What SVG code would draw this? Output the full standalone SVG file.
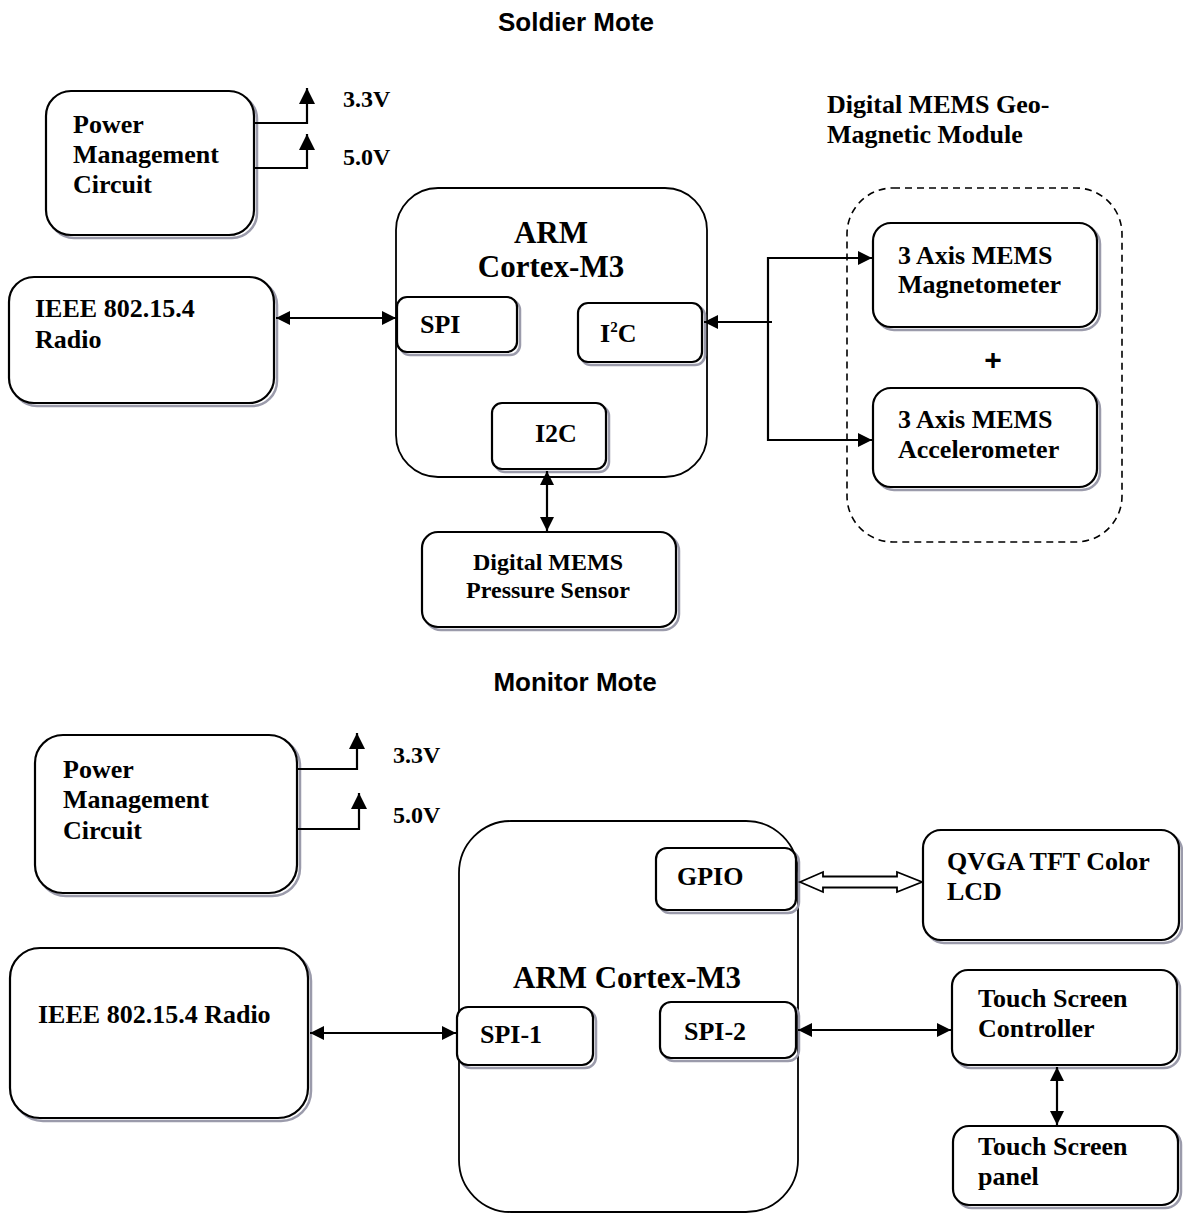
<svg xmlns="http://www.w3.org/2000/svg" width="1183" height="1213" viewBox="0 0 1183 1213">
<defs>
<style>
.box{fill:#fff;stroke:#000;stroke-width:2.2}
.sh{fill:none;stroke:#9b9bab;stroke-width:2.5}
.big{fill:#fff;stroke:#000;stroke-width:1.8}
.dash{fill:none;stroke:#000;stroke-width:1.6;stroke-dasharray:7 5}
.t{font-family:"Liberation Serif","Times New Roman",serif;font-weight:bold;font-size:26px;fill:#000}
.t24{font-family:"Liberation Serif","Times New Roman",serif;font-weight:bold;font-size:24px;fill:#000}
.arm{font-family:"Liberation Serif","Times New Roman",serif;font-weight:bold;font-size:31px;fill:#000}
.h{font-family:"Liberation Sans",Arial,sans-serif;font-weight:bold;font-size:26px;fill:#000}
.ln{fill:none;stroke:#000;stroke-width:2.2}
</style>
<marker id="ah" viewBox="0 0 10 10" refX="10" refY="5" markerWidth="16" markerHeight="14" markerUnits="userSpaceOnUse" orient="auto-start-reverse">
<path d="M0,0 L10,5 L0,10 z" fill="#000"/>
</marker>
<marker id="up" viewBox="0 0 10 10" refX="10" refY="5" markerWidth="18" markerHeight="16" markerUnits="userSpaceOnUse" orient="auto">
<path d="M0,0 L10,5 L0,10 z" fill="#000"/>
</marker>
</defs>
<rect width="1183" height="1213" fill="#fff"/>

<text class="h" x="576" y="31" text-anchor="middle">Soldier Mote</text>
<text class="h" x="575" y="691" text-anchor="middle">Monitor Mote</text>

<!-- Soldier mote -->
<g id="s-power">
<rect class="sh" x="49" y="94" width="208" height="144" rx="25"/>
<rect class="box" x="46" y="91" width="208" height="144" rx="25"/>
<text class="t" x="73" y="133">Power</text>
<text class="t" x="73" y="163">Management</text>
<text class="t" x="73" y="193">Circuit</text>
</g>
<g id="s-v33"><text class="t24" x="343" y="107">3.3V</text></g>
<g id="s-v50"><text class="t24" x="343" y="165">5.0V</text></g>

<g id="s-radio">
<rect class="sh" x="12" y="280" width="265" height="126" rx="25"/>
<rect class="box" x="9" y="277" width="265" height="126" rx="25"/>
<text class="t" x="35" y="317">IEEE 802.15.4</text>
<text class="t" x="35" y="348">Radio</text>
</g>

<g id="s-arm">
<rect class="big" x="396" y="188" width="311" height="289" rx="42"/>
<text class="arm" x="551" y="243" text-anchor="middle">ARM</text>
<text class="arm" x="551" y="277" text-anchor="middle">Cortex-M3</text>
</g>
<g id="s-spi">
<rect class="sh" x="400" y="300" width="120" height="55" rx="10"/>
<rect class="box" x="397" y="297" width="120" height="55" rx="10"/>
<text class="t" x="420" y="333">SPI</text>
</g>
<g id="s-i2c-a">
<rect class="sh" x="581" y="306" width="124" height="59" rx="10"/>
<rect class="box" x="578" y="303" width="124" height="59" rx="10"/>
<text class="t" x="600" y="342">I<tspan font-size="15" dy="-10">2</tspan><tspan dy="10">C</tspan></text>
</g>
<g id="s-i2c-b">
<rect class="sh" x="495" y="406" width="114" height="66" rx="10"/>
<rect class="box" x="492" y="403" width="114" height="66" rx="10"/>
<text class="t" x="535" y="442">I2C</text>
</g>

<g id="s-pressure">
<rect class="sh" x="425" y="535" width="254" height="95" rx="16"/>
<rect class="box" x="422" y="532" width="254" height="95" rx="16"/>
<text class="t24" x="548" y="570" text-anchor="middle">Digital MEMS</text>
<text class="t24" x="548" y="598" text-anchor="middle">Pressure Sensor</text>
</g>

<g id="s-geo">
<text class="t" x="827" y="113">Digital MEMS Geo-</text>
<text class="t" x="827" y="143">Magnetic Module</text>
<rect class="dash" x="847" y="188" width="275" height="354" rx="46"/>
<text x="993" y="370" text-anchor="middle" font-family="Liberation Sans, Arial, sans-serif" font-weight="bold" font-size="30">+</text>
</g>
<g id="s-mag">
<rect class="sh" x="876" y="226" width="224" height="104" rx="18"/>
<rect class="box" x="873" y="223" width="224" height="104" rx="18"/>
<text class="t" x="898" y="264">3 Axis MEMS</text>
<text class="t" x="898" y="293">Magnetometer</text>
</g>
<g id="s-acc">
<rect class="sh" x="876" y="391" width="224" height="99" rx="18"/>
<rect class="box" x="873" y="388" width="224" height="99" rx="18"/>
<text class="t" x="898" y="428">3 Axis MEMS</text>
<text class="t" x="898" y="458">Accelerometer</text>
</g>

<!-- Monitor mote -->
<g id="m-power">
<rect class="sh" x="38" y="738" width="262" height="158" rx="28"/>
<rect class="box" x="35" y="735" width="262" height="158" rx="28"/>
<text class="t" x="63" y="778">Power</text>
<text class="t" x="63" y="808">Management</text>
<text class="t" x="63" y="839">Circuit</text>
</g>
<g id="m-v33"><text class="t24" x="393" y="763">3.3V</text></g>
<g id="m-v50"><text class="t24" x="393" y="823">5.0V</text></g>

<g id="m-radio">
<rect class="sh" x="13" y="951" width="298" height="170" rx="30"/>
<rect class="box" x="10" y="948" width="298" height="170" rx="30"/>
<text class="t" x="38" y="1023">IEEE 802.15.4 Radio</text>
</g>

<g id="m-arm">
<rect class="big" x="459" y="821" width="339" height="391" rx="52"/>
<text class="arm" x="627" y="988" text-anchor="middle" font-size="32">ARM Cortex-M3</text>
</g>
<g id="m-gpio">
<rect class="sh" x="659" y="851" width="140" height="62" rx="11"/>
<rect class="box" x="656" y="848" width="140" height="62" rx="11"/>
<text class="t" x="677" y="885">GPIO</text>
</g>
<g id="m-spi1">
<rect class="sh" x="460" y="1010" width="136" height="58" rx="11"/>
<rect class="box" x="457" y="1007" width="136" height="58" rx="11"/>
<text class="t" x="480" y="1043">SPI-1</text>
</g>
<g id="m-spi2">
<rect class="sh" x="663" y="1005" width="136" height="56" rx="11"/>
<rect class="box" x="660" y="1002" width="136" height="56" rx="11"/>
<text class="t" x="684" y="1040">SPI-2</text>
</g>
<g id="m-lcd">
<rect class="sh" x="926" y="833" width="256" height="110" rx="18"/>
<rect class="box" x="923" y="830" width="256" height="110" rx="18"/>
<text class="t" x="947" y="870">QVGA TFT Color</text>
<text class="t" x="947" y="900">LCD</text>
</g>
<g id="m-tsc">
<rect class="sh" x="955" y="973" width="225" height="95" rx="16"/>
<rect class="box" x="952" y="970" width="225" height="95" rx="16"/>
<text class="t" x="978" y="1007">Touch Screen</text>
<text class="t" x="978" y="1037">Controller</text>
</g>
<g id="m-tsp">
<rect class="sh" x="956" y="1129" width="225" height="79" rx="16"/>
<rect class="box" x="953" y="1126" width="225" height="79" rx="16"/>
<text class="t" x="978" y="1155">Touch Screen</text>
<text class="t" x="978" y="1185">panel</text>
</g>

<g id="connectors">
<path class="ln" d="M254,123 H307 V88" marker-end="url(#up)"/>
<path class="ln" d="M254,168 H307 V134" marker-end="url(#up)"/>
<line class="ln" x1="276" y1="318" x2="396" y2="318" marker-start="url(#ah)" marker-end="url(#ah)"/>
<line class="ln" x1="772" y1="322" x2="704" y2="322" marker-end="url(#ah)"/>
<line class="ln" x1="768" y1="257" x2="768" y2="441"/>
<line class="ln" x1="767" y1="258" x2="872" y2="258" marker-end="url(#ah)"/>
<line class="ln" x1="767" y1="440" x2="872" y2="440" marker-end="url(#ah)"/>
<line class="ln" x1="547" y1="471" x2="547" y2="531" marker-start="url(#ah)" marker-end="url(#ah)"/>
<path class="ln" d="M297,769 H357 V733" marker-end="url(#up)"/>
<path class="ln" d="M297,829 H359 V793" marker-end="url(#up)"/>
<line class="ln" x1="310" y1="1033" x2="456" y2="1033" marker-start="url(#ah)" marker-end="url(#ah)"/>
<path d="M800,882 L823,872 L823,876.5 L897,876.5 L897,872 L922,882 L897,892 L897,887.5 L823,887.5 L823,892 Z" fill="#fff" stroke="#000" stroke-width="1.8" stroke-linejoin="miter"/>
<line class="ln" x1="798" y1="1030" x2="951" y2="1030" marker-start="url(#ah)" marker-end="url(#ah)"/>
<line class="ln" x1="1057" y1="1067" x2="1057" y2="1125" marker-start="url(#ah)" marker-end="url(#ah)"/>
</g>
</svg>
